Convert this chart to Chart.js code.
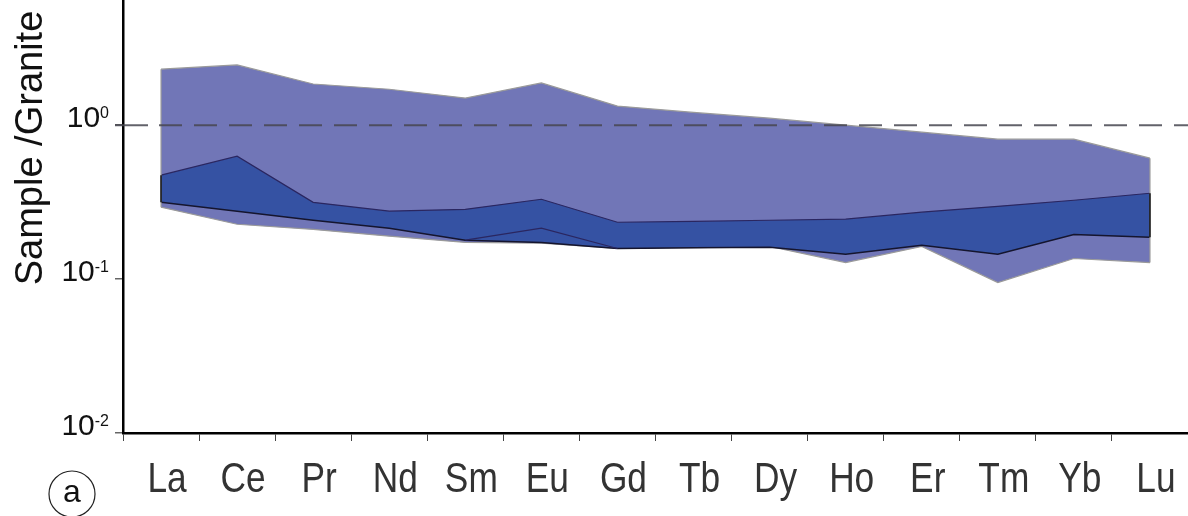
<!DOCTYPE html>
<html lang="en">
<head>
    <meta charset="UTF-8">
    <title>REE Sample/Granite</title>
    <script src="https://cdn.jsdelivr.net/npm/chart.js"></script>
    <style>
        html, body { margin: 0; padding: 0; background: #fff; }
        #wrap { width: 1188px; height: 516px; position: relative; }
    </style>
</head>
<body>
    <div id="wrap"><canvas id="myChart"></canvas></div>

    <script>
        // Datos
        const elements = ['La', 'Ce', 'Pr', 'Nd', 'Sm', 'Eu', 'Gd', 'Tb', 'Dy', 'Ho', 'Er', 'Tm', 'Yb', 'Lu'];
        const rangeMax = [2.31, 2.46, 1.85, 1.71, 1.50, 1.88, 1.33, 1.21, 1.11, 1.00, 0.90, 0.81, 0.81, 0.61];
        const rangeMin = [0.293, 0.227, 0.210, 0.190, 0.173, 0.171, 0.158, 0.160, 0.163, 0.128, 0.163, 0.095, 0.136, 0.128];
        const coreMax = [0.473, 0.629, 0.315, 0.276, 0.284, 0.330, 0.234, 0.237, 0.241, 0.245, 0.272, 0.297, 0.325, 0.361];
        const coreMin = [0.316, 0.276, 0.241, 0.214, 0.179, 0.173, 0.158, 0.160, 0.161, 0.145, 0.166, 0.145, 0.195, 0.187];
        const euLine = [null, null, null, null, 0.179, 0.214, 0.158, null, null, null, null, null, null, null];
        const yTicks = [0.01, 0.1, 1];
        const yExp = ['-2', '-1', '0'];
        const refValue = 1;

        const outerFill = '#7176b7';
        const innerFill = '#3552a3';

        // bordes verticales de las bandas, linea punteada y textos extra
        const extras = {
            id: 'extras',
            afterDatasetsDraw(chart) {
                const ctx = chart.ctx;
                const y = chart.scales.y;
                const area = chart.chartArea;
                const edge = (a, b, color, w) => {
                    const pa = chart.getDatasetMeta(a).data;
                    const pb = chart.getDatasetMeta(b).data;
                    ctx.save();
                    ctx.strokeStyle = color;
                    ctx.lineWidth = w;
                    [0, pa.length - 1].forEach(i => {
                        ctx.beginPath();
                        ctx.moveTo(pa[i].x, pa[i].y);
                        ctx.lineTo(pb[i].x, pb[i].y);
                        ctx.stroke();
                    });
                    ctx.restore();
                };
                edge(0, 1, '#9a9a9a', 1.2);
                edge(2, 3, '#111111', 1.5);

                // linea de referencia en 10^0
                const yRef = y.getPixelForValue(refValue);
                ctx.save();
                ctx.strokeStyle = 'rgba(70,70,80,0.85)';
                ctx.lineWidth = 2;
                ctx.setLineDash([23, 12]);
                ctx.beginPath();
                ctx.moveTo(area.left + 36, yRef);
                ctx.lineTo(area.right, yRef);
                ctx.stroke();
                ctx.setLineDash([]);
                ctx.beginPath();
                ctx.moveTo(area.left - 8, yRef);
                ctx.lineTo(area.left + 25, yRef);
                ctx.stroke();
                ctx.restore();
            },
            afterDraw(chart) {
                const ctx = chart.ctx;
                const x = chart.scales.x;
                const y = chart.scales.y;
                ctx.save();
                ctx.fillStyle = '#111';
                // etiquetas 10^n
                yTicks.forEach((v, i) => {
                    const py = y.getPixelForValue(v);
                    ctx.font = '16px "Liberation Sans", Arial, sans-serif';
                    const supW = ctx.measureText(yExp[i]).width;
                    const right = 109;
                    ctx.textAlign = 'left';
                    ctx.textBaseline = 'alphabetic';
                    ctx.fillText(yExp[i], right - supW, py - 7);
                    ctx.font = '30px "Liberation Sans", Arial, sans-serif';
                    ctx.textAlign = 'right';
                    ctx.fillText('10', right - supW, py + 2);
                });
                ctx.restore();

                // etiquetas de elementos (letra estrecha)
                ctx.save();
                ctx.fillStyle = '#333';
                ctx.font = '42px "Liberation Sans", Arial, sans-serif';
                ctx.textAlign = 'center';
                ctx.textBaseline = 'alphabetic';
                elements.forEach((el, i) => {
                    const px = x.getPixelForValue(i) + 6;
                    ctx.save();
                    ctx.translate(px, 492);
                    ctx.scale(0.84, 1);
                    ctx.fillText(el, 0, 0);
                    ctx.restore();
                });
                ctx.restore();

                // titulo del eje y
                ctx.save();
                ctx.fillStyle = '#111';
                ctx.translate(42, 148);
                ctx.rotate(-Math.PI / 2);
                ctx.font = '38px "Liberation Sans", Arial, sans-serif';
                ctx.textAlign = 'center';
                ctx.textBaseline = 'alphabetic';
                ctx.fillText('Sample /Granite', 0, 0);
                ctx.restore();

                // marca del panel
                ctx.save();
                ctx.strokeStyle = '#222';
                ctx.lineWidth = 1.2;
                ctx.beginPath();
                ctx.arc(72, 494, 23, 0, Math.PI * 2);
                ctx.stroke();
                ctx.fillStyle = '#111';
                ctx.font = '32px "Liberation Sans", Arial, sans-serif';
                ctx.textAlign = 'center';
                ctx.textBaseline = 'middle';
                ctx.fillText('a', 72, 493);
                ctx.restore();
            }
        };

        const ctx = document.getElementById('myChart').getContext('2d');
        const chart = new Chart(ctx, {
            type: 'line',
            data: {
                labels: elements,
                datasets: [
                    { label: 'max', data: rangeMax, fill: '+1', backgroundColor: outerFill, borderColor: '#9a9a9a', borderWidth: 1.2, order: 5 },
                    { label: 'min', data: rangeMin, fill: false, borderColor: '#9a9a9a', borderWidth: 1.2, order: 4 },
                    { label: 'core max', data: coreMax, fill: '+1', backgroundColor: innerFill, borderColor: '#2a2660', borderWidth: 1.2, order: 3 },
                    { label: 'core min', data: coreMin, fill: false, borderColor: '#15152e', borderWidth: 1.5, order: 2 },
                    { label: 'Eu', data: euLine, fill: false, borderColor: '#2a2660', borderWidth: 1.2, spanGaps: false, order: 1 }
                ]
            },
            options: {
                responsive: true,
                maintainAspectRatio: false,
                animation: false,
                layout: { padding: 0 },
                elements: {
                    point: { radius: 0 },
                    line: { tension: 0 }
                },
                plugins: {
                    legend: { display: false },
                    tooltip: { enabled: false }
                },
                scales: {
                    x: {
                        type: 'category',
                        offset: true,
                        grid: { offset: true, drawOnChartArea: false, tickLength: 8, color: '#444', lineWidth: 1 },
                        border: { color: '#000', width: 2.5 },
                        ticks: { display: false },
                        afterFit(scale) { scale.height = 83; }
                    },
                    y: {
                        type: 'logarithmic',
                        min: 0.01,
                        max: 6.5,
                        grid: { drawOnChartArea: false, tickLength: 8, color: '#666', lineWidth: 1.5 },
                        border: { color: '#000', width: 2.5 },
                        ticks: { display: false },
                        afterBuildTicks(scale) { scale.ticks = yTicks.map(v => ({ value: v })); },
                        afterFit(scale) { scale.width = 123; }
                    }
                }
            },
            plugins: [extras]
        });
    </script>
</body>
</html>
